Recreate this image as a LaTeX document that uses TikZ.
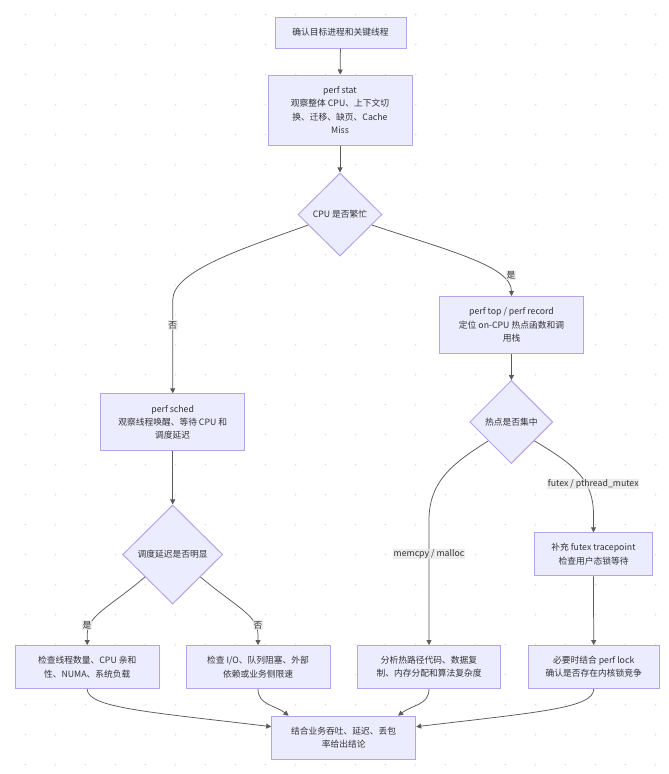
\documentclass[tikz,border=0pt]{standalone}
\usepackage{fontspec}
\newfontfamily\cjk{Noto Sans CJK SC}
\usetikzlibrary{shapes.geometric,arrows.meta,calc}
\definecolor{mmfill}{HTML}{ECECFF}
\definecolor{mmstroke}{HTML}{B4A4EA}
\definecolor{mmline}{HTML}{5A5A5A}
\definecolor{mmtext}{HTML}{333333}
\definecolor{mmlbl}{HTML}{E8E8E8}
\definecolor{mmdot}{HTML}{E2E2E2}
\begin{document}
\begin{tikzpicture}[x=1pt,y=-1pt,
 txt/.style={font=\cjk\fontsize{8.75}{13.3}\selectfont, text=mmtext, align=center},
 box/.style={txt, rectangle, draw=mmstroke, fill=mmfill, line width=1pt, inner sep=0pt},
 dia/.style={txt, diamond, draw=mmstroke, fill=mmfill, line width=1pt, inner sep=0pt},
 lbl/.style={txt, fill=mmlbl, fill opacity=0.8, text opacity=1, inner sep=0.8pt},
 flow/.style={draw=mmline, line width=0.75pt, -{Triangle[length=5pt,width=5pt]}},
]
\fill[white] (0,0) rectangle (669,774);
\useasboundingbox (0,0) rectangle (669,774);
\foreach \i in {0,...,21} \foreach \j in {0,...,25} \fill[mmdot] ({25.5+30*\i},{14.5+30*\j}) circle (1pt);

\node[box, minimum width=131pt, minimum height=31pt] (A) at (340.5,32.5) {确认目标进程和关键线程};
\node[box, minimum width=144pt, minimum height=70pt] (B) at (340,110) {perf stat\\观察整体 CPU、上下文切\\换、迁移、缺页、Cache\\Miss};
\node[dia, minimum width=84pt, minimum height=83pt] (C) at (340,214.5) {CPU 是否繁忙};
\node[box, minimum width=144pt, minimum height=57pt] (D) at (172.7,422.3) {perf sched\\观察线程唤醒、等待 CPU 和\\调度延迟};
\node[dia, minimum width=100pt, minimum height=99pt] (E) at (172.7,554.5) {调度延迟是否明显};
\node[box, minimum width=144pt, minimum height=57pt] (F) at (511.5,325) {perf top / perf record\\定位 on-CPU 热点函数和调\\用栈};
\node[dia, minimum width=83pt, minimum height=83pt] (G) at (511.3,422) {热点是否集中};
\node[box, minimum width=118pt, minimum height=43pt] (H) at (593.5,554.3) {补充 futex tracepoint\\检查用户态锁等待};
\node[box, minimum width=144pt, minimum height=43pt] (I) at (87.2,667) {检查线程数量、CPU 亲和\\性、NUMA、系统负载};
\node[box, minimum width=144pt, minimum height=43pt] (J) at (258,667) {检查 I/O、队列阻塞、外部\\依赖或业务侧限速};
\node[box, minimum width=143pt, minimum height=43pt] (K) at (429,667) {分析热路径代码、数据复\\制、内存分配和算法复杂度};
\node[box, minimum width=131pt, minimum height=43pt] (L) at (593.7,667) {必要时结合 perf lock\\确认是否存在内核锁竞争};
\node[box, minimum width=144pt, minimum height=43pt] (M) at (343.7,737.7) {结合业务吞吐、延迟、丢包\\率给出结论};

\draw[flow] (A) -- (B);
\draw[flow] (B) -- (C);
\draw[flow] ($(C.west)!0.25!(C.south)$) .. controls (248,247) and (172.7,270) .. (172.7,300) -- (D.north);
\draw[flow] ($(C.east)!0.25!(C.south)$) .. controls (446.7,250) and (511.5,266) .. (F.north);
\draw[flow] (D) -- (E);
\draw[flow] ($(E.west)!0.45!(E.south)$) .. controls (110,607) and (87.2,615) .. (87.2,635) -- (I.north);
\draw[flow] ($(E.east)!0.45!(E.south)$) .. controls (236,607) and (258,615) .. (258,635) -- (J.north);
\draw[flow] (F) -- (G);
\draw[flow] ($(G.west)!0.45!(G.south)$) .. controls (455,462) and (429,480) .. (429,520) -- (K.north);
\draw[flow] ($(G.east)!0.45!(G.south)$) .. controls (575,465) and (593.5,480) .. (593.5,515) -- (H.north);
\draw[flow] (H.south) -- (L.north);
\draw[flow] (I.south) .. controls (87.2,708) and (150,712) .. ($(M.north west)!0.5!(M.west)$);
\draw[flow] (J.south) .. controls (258,705) and (275,705) .. ($(M.north west)!0.12!(M.north east)$);
\draw[flow] (K.south) .. controls (429,705) and (412,705) .. ($(M.north west)!0.875!(M.north east)$);
\draw[flow] (L.south) .. controls (593.7,708) and (540,712) .. ($(M.north east)!0.5!(M.east)$);

\node[lbl] (l1) at (172.7,325) {否};
\node[lbl] (l2) at (511,275) {是};
\node[lbl] (l3) at (87,625) {是};
\node[lbl] (l4) at (258,625) {否};
\node[lbl] (l5) at (429,554) {memcpy / malloc};
\node[lbl] (l6) at (593.3,484) {futex / pthread\_mutex};
\end{tikzpicture}
\end{document}
